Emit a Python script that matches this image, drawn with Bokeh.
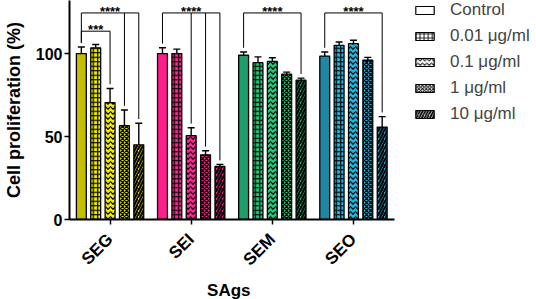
from bokeh.plotting import figure
from bokeh.models import Range1d, FixedTicker, Legend, LegendItem, Whisker, TeeHead, ColumnDataSource, Title
from bokeh.core.properties import value
from bokeh.embed import file_html
from bokeh.resources import INLINE
import math

# ---------------- data ----------------
groups = ["SEG", "SEI", "SEM", "SEO"]
doses = ["Control", "0.01 μg/ml", "0.1 μg/ml", "1 μg/ml", "10 μg/ml"]

seg_mean = [100, 103.5, 70.5, 56.5, 45]
seg_err = [4, 2, 8.5, 9.5, 13]
sei_mean = [100, 100, 50.5, 39, 32]
sei_err = [3.5, 2.7, 4.8, 2.4, 1.2]
sem_mean = [99, 94.5, 95.3, 87.6, 84]
sem_err = [2, 3.5, 2.2, 1.2, 1.2]
seo_mean = [98.5, 105, 106, 96, 55.7]
seo_err = [2.5, 2, 2, 1.7, 6.3]

y_ticks = [0, 50, 100]

# significance: (group index, reference dose, target doses, label, bracket tier)
sig_group = [0, 0, 1, 2, 3]
sig_ref = [0, 0, 0, 0, 0]
sig_targets = [[3, 4], [2], [2, 3, 4], [4], [4]]
sig_label = ["****", "***", "****", "****", "****"]
sig_tier = [0, 1, 0, 0, 0]

# ---------------- styles ----------------
ctrl_colors = ["#C4BD00", "#FF1F8C", "#1E9E6B", "#1F87A4"]
pat_colors = ["#F0EC00", "#FF2592", "#25C67B", "#20B6DD"]
hatches = [" ", "cross", "horizontal_wave", "diagonal_cross", "right_diagonal_line"]
hatch_scales = [1, 4.5, 5, 4, 6]
hatch_weights = [1, 1.2, 1.2, 1.3, 2.2]

means = [seg_mean, sei_mean, sem_mean, seo_mean]
errs = [seg_err, sei_err, sem_err, seo_err]

FONT_NAME = "Liberation Sans"
FONT = value(FONT_NAME)
pitch = 0.177
bw = 0.122
W, H, LEFT, BOTTOM = 536, 299, 64, 78
px_per_group = 82.0
x_end = -0.5 + (W - LEFT) / px_per_group

p = figure(width=W, height=H, x_range=Range1d(-0.5, x_end),
           y_range=Range1d(0, 132), output_backend="svg", toolbar_location=None,
           min_border_left=LEFT, min_border_right=0, min_border_top=0, min_border_bottom=BOTTOM)
p.xgrid.visible = False
p.ygrid.visible = False
p.outline_line_color = None

def xpos(g, d):
    return g + (d - 2) * pitch

# bars
for d in range(len(doses)):
    xs, tops, fills, ups = [], [], [], []
    for g in range(len(groups)):
        xs.append(xpos(g, d))
        tops.append(means[g][d])
        fills.append(ctrl_colors[g] if d == 0 else pat_colors[g])
        ups.append(means[g][d] + errs[g][d])
    src = ColumnDataSource(dict(x=xs, top=tops, fill=fills, upper=ups))
    w = Whisker(source=src, base="x", lower="top", upper="upper", dimension="height",
                line_width=1.4, line_color="black",
                upper_head=TeeHead(size=7, line_width=1.4, line_color="black"), lower_head=None)
    p.add_layout(w)
    p.vbar(x="x", top="top", width=bw, source=src, fill_color="fill",
           line_color="black", line_width=1.3,
           hatch_pattern=hatches[d], hatch_color="black",
           hatch_scale=hatch_scales[d], hatch_weight=hatch_weights[d])

# legend proxies (off-range)
items = []
for d in range(len(doses)):
    r = p.vbar(x=[-5], top=[1], bottom=[0], width=0.1, fill_color="white",
               line_color="black", line_width=1.2,
               hatch_pattern=hatches[d], hatch_color="black",
               hatch_scale=hatch_scales[d] * 0.9, hatch_weight=hatch_weights[d] * 0.8)
    items.append(LegendItem(label=doses[d], renderers=[r]))

legend = Legend(items=items, location=(344, 95), padding=0, margin=0, spacing=6,
                glyph_width=23, glyph_height=10, label_height=20, label_standoff=14,
                label_text_font=FONT_NAME, label_text_font_size="17px",
                border_line_color=None, background_fill_alpha=0)
p.add_layout(legend, "center")

# significance brackets
levels = [124.5, 113.5]
hx0, hx1, hy = [], [], []
vx, vy0, vy1 = [], [], []
tx, ty, tt = [], [], []
for i in range(len(sig_group)):
    g = sig_group[i]
    lvl = levels[sig_tier[i]]
    xr = xpos(g, sig_ref[i])
    xl = xpos(g, max(sig_targets[i]))
    hx0.append(xr); hx1.append(xl); hy.append(lvl)
    vx.append(xr); vy0.append(lvl); vy1.append(means[g][sig_ref[i]] + errs[g][sig_ref[i]] + 2.5)
    for t in sig_targets[i]:
        vx.append(xpos(g, t)); vy0.append(lvl); vy1.append(means[g][t] + errs[g][t] + 2.5)
    tx.append((xr + xl) / 2); ty.append(lvl + 0.8); tt.append(sig_label[i])

p.segment(x0=hx0, x1=hx1, y0=hy, y1=hy, line_color="black", line_width=1)
p.segment(x0=vx, x1=vx, y0=vy0, y1=vy1, line_color="black", line_width=1)
p.text(x=tx, y=ty, text=tt, text_align="center", text_baseline="alphabetic",
       text_font=FONT, text_font_style="bold", text_font_size="13px", text_color="black")

# axes
for ax in (p.xaxis[0], p.yaxis[0]):
    ax.axis_line_width = 2
    ax.axis_line_color = "black"
    ax.major_tick_line_width = 1.5
    ax.major_tick_line_color = "black"
    ax.major_tick_out = 5
    ax.major_tick_in = 0
    ax.minor_tick_line_color = None
    ax.major_label_text_font = FONT_NAME
    ax.major_label_text_font_style = "bold"
    ax.major_label_text_color = "black"
    ax.axis_label_text_font = FONT_NAME
    ax.axis_label_text_font_style = "bold"
    ax.axis_label_text_color = "black"

p.yaxis.ticker = FixedTicker(ticks=y_ticks)
p.yaxis.major_label_text_font_size = "16px"
p.yaxis.major_label_standoff = 2
p.yaxis.axis_label = "Cell proliferation (%)"
p.yaxis.axis_label_text_font_size = "18px"
p.yaxis.axis_label_standoff = 9

p.xaxis.ticker = FixedTicker(ticks=list(range(len(groups))))
p.xaxis.major_label_overrides = {i: g for i, g in enumerate(groups)}
p.xaxis.bounds = (-0.5, len(groups) - 0.5)
p.xaxis.major_label_orientation = math.pi / 4
p.xaxis.major_label_text_font_size = "17px"
p.xaxis.major_label_standoff = 12

# x-axis title, centred under the bounded axis (anchored from the right edge)
axis_center_px = (len(groups) / 2) * px_per_group
xtitle = Title(text="SAgs", align="right", text_font=FONT_NAME, text_font_style="bold",
               text_font_size="17px", text_color="black", standoff=0,
               offset=(W - LEFT) - axis_center_px - 22)
p.add_layout(xtitle, "below")

open("out.html", "w").write(file_html(p, INLINE))
